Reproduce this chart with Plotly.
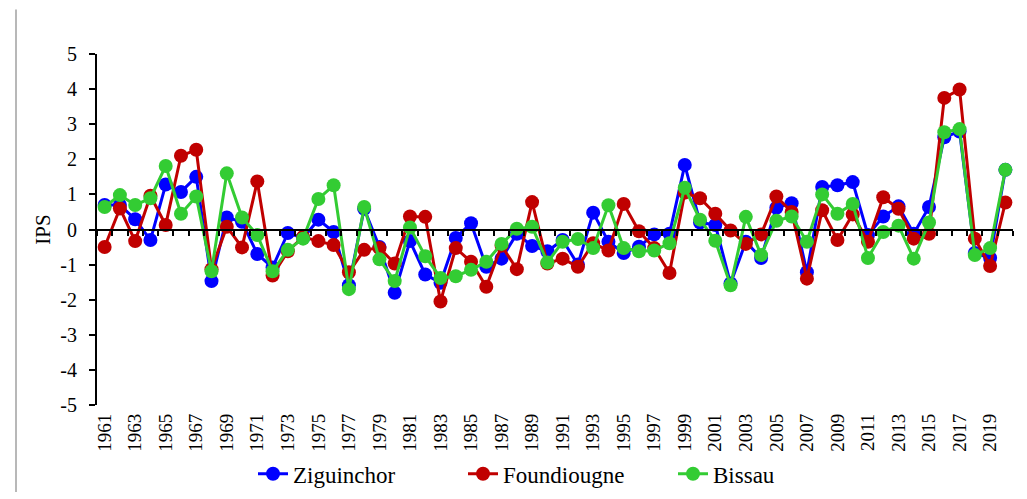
import plotly.graph_objects as go

years = list(range(1961, 2021))

ziguinchor = [0.70, 0.70, 0.29, -0.30, 1.28, 1.07, 1.50, -1.47, 0.34, 0.22,
              -0.70, -1.08, -0.10, -0.24, 0.28, -0.07, -1.59, 0.59, -0.50, -1.80,
              -0.33, -1.28, -1.52, -0.24, 0.18, -1.06, -0.83, -0.12, -0.47, -0.62,
              -0.30, -1.00, 0.48, -0.35, -0.67, -0.49, -0.14, -0.12, 1.84, 0.20,
              0.13, -1.54, -0.35, -0.81, 0.62, 0.75, -1.22, 1.21, 1.26, 1.35,
              -0.16, 0.37, 0.66, -0.12, 0.64, 2.63, 2.79, -0.67, -0.81, 1.70]

foundiougne = [-0.50, 0.60, -0.33, 0.96, 0.13, 2.10, 2.27, -1.13, 0.08, -0.51,
               1.37, -1.31, -0.62, -0.21, -0.33, -0.44, -1.22, -0.58, -0.53, -0.97,
               0.37, 0.36, -2.05, -0.53, -0.92, -1.63, -0.46, -1.13, 0.78, -0.97,
               -0.83, -1.06, -0.39, -0.60, 0.73, -0.05, -0.53, -1.24, 1.05, 0.89,
               0.45, -0.03, -0.41, -0.14, 0.94, 0.50, -1.40, 0.55, -0.30, 0.43,
               -0.35, 0.92, 0.59, -0.26, -0.12, 3.75, 3.99, -0.26, -1.04, 0.77]

bissau = [0.64, 0.98, 0.70, 0.89, 1.81, 0.45, 0.94, -1.19, 1.60, 0.34,
          -0.16, -1.19, -0.58, -0.26, 0.87, 1.26, -1.70, 0.64, -0.85, -1.47,
          0.06, -0.76, -1.38, -1.33, -1.15, -0.92, -0.41, 0.02, 0.08, -0.94,
          -0.35, -0.27, -0.53, 0.69, -0.53, -0.62, -0.60, -0.39, 1.19, 0.28,
          -0.32, -1.59, 0.36, -0.73, 0.25, 0.37, -0.35, 1.00, 0.45, 0.73,
          -0.81, -0.07, 0.11, -0.83, 0.20, 2.77, 2.86, -0.73, -0.53, 1.70]

y_ticks = list(range(-5, 6))
y_tick_text = [str(v) for v in y_ticks]  # plain hyphen minus like the original

series = [("Ziguinchor", ziguinchor, "#0000FF"),
          ("Foundiougne", foundiougne, "#C00000"),
          ("Bissau", bissau, "#33CC33")]

FONT = "'Times New Roman', 'Liberation Serif', Tinos, 'DejaVu Serif', serif"

fig = go.Figure()
for name, vals, col in series:
    fig.add_trace(go.Scatter(
        x=years, y=vals, name=name, mode="lines+markers",
        line=dict(color=col, width=3),
        marker=dict(color=col, size=14),
    ))

# helper trace for the zero-line axis (category boundary ticks)
fig.add_trace(go.Scatter(x=[years[0]], y=[None], xaxis="x2", showlegend=False,
                         hoverinfo="skip", mode="markers"))

boundaries = [y - 0.5 for y in years] + [years[-1] + 0.5]
xr = [years[0] - 0.5, years[-1] + 0.5]

fig.update_layout(
    width=1027, height=499,
    margin=dict(l=89, r=22, t=46, b=90),
    paper_bgcolor="white", plot_bgcolor="white",
    font=dict(family=FONT, size=19, color="black"),
    xaxis=dict(range=xr, tickmode="array", tickvals=years[::2],
               ticktext=[str(y) for y in years[::2]], tickangle=-90,
               showline=False, ticks="", showgrid=False, zeroline=False,
               ticklabelstandoff=4,
               tickfont=dict(family=FONT, size=19, color="black")),
    xaxis2=dict(range=xr, overlaying="x", anchor="free", position=0.5,
                side="bottom", showline=True, linecolor="black", linewidth=2,
                ticks="outside", ticklen=5, tickwidth=1.5, tickcolor="black",
                tickmode="array", tickvals=boundaries, showticklabels=False,
                showgrid=False, zeroline=False),
    yaxis=dict(range=[-5, 5], tickmode="array", tickvals=y_ticks,
               ticktext=y_tick_text, showline=True,
               linecolor="black", linewidth=2, ticks="outside", ticklen=6,
               tickwidth=2, tickcolor="black", showgrid=False, zeroline=False,
               ticklabelstandoff=8,
               tickfont=dict(family=FONT, size=20, color="black"),
               title=dict(text="IPS", font=dict(family=FONT, size=21),
                          standoff=4)),
    legend=dict(orientation="h", x=(245 - 89) / 916, xanchor="left",
                y=-0.196, yanchor="middle", font=dict(family=FONT, size=23),
                entrywidth=165, entrywidthmode="pixels",
                bgcolor="rgba(0,0,0,0)"),
    shapes=[dict(type="line", xref="paper", yref="paper",
                 x0=-81 / 916, x1=-81 / 916, y0=-90 / 363, y1=1 + 46 / 363,
                 line=dict(color="#A0A0A0", width=1.5))],
)

fig.write_html("out.html")
